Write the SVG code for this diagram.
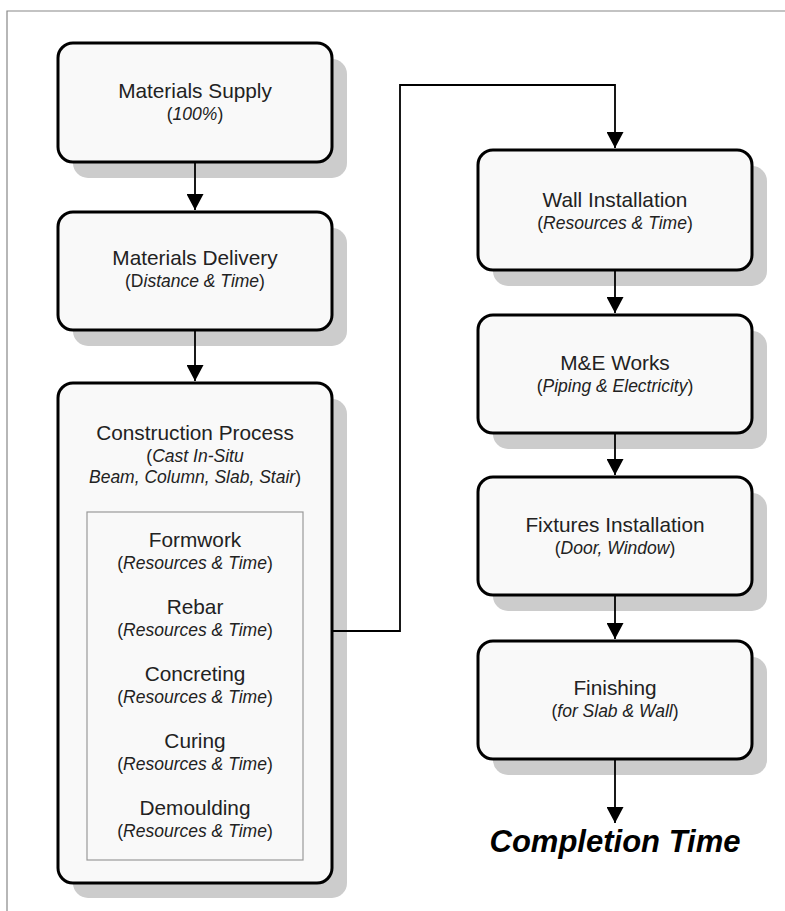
<svg xmlns="http://www.w3.org/2000/svg" width="785" height="911" viewBox="0 0 785 911">
  <defs>
    <marker id="arrow" markerWidth="17" markerHeight="17" refX="16" refY="8.5" orient="auto" markerUnits="userSpaceOnUse">
      <path d="M0,0 L16,8.5 L0,17 Z" fill="#000"/>
    </marker>
  </defs>
  <style>
    .shadow { fill: #cccccc; }
    .box { fill: #f9f9f9; stroke: #000; stroke-width: 3; }
    .inner { fill: none; stroke: #999; stroke-width: 1.2; }
    .title { font-family: "Liberation Sans", Arial, sans-serif; font-size: 20.8px; fill: #222; text-anchor: middle; }
    .sub { font-family: "Liberation Sans", Arial, sans-serif; font-size: 17.5px; fill: #222; text-anchor: middle; }
    .it { font-style: italic; }
    .conn { fill: none; stroke: #000; stroke-width: 1.8; }
    .frame { fill: none; stroke: #888; stroke-width: 1.2; }
    .final { font-family: "Liberation Sans", Arial, sans-serif; font-size: 31px; font-weight: bold; font-style: italic; fill: #000; text-anchor: middle; }
  </style>
  <rect width="785" height="911" fill="#fff"/>
  <path class="frame" d="M7,911 V11 H785"/>

  <g id="materials-supply">
    <rect class="shadow" x="73" y="59" width="274" height="119" rx="15"/>
    <rect class="box" x="58" y="43" width="274" height="119" rx="15"/>
    <text class="title" x="195" y="98">Materials Supply</text>
    <text class="sub" x="195" y="120">(<tspan class="it">100%</tspan>)</text>
  </g>

  <g id="materials-delivery">
    <rect class="shadow" x="73" y="228" width="274" height="118" rx="15"/>
    <rect class="box" x="58" y="212" width="274" height="118" rx="15"/>
    <text class="title" x="195" y="265">Materials Delivery</text>
    <text class="sub" x="195" y="287">(D<tspan class="it">istance &amp; Time</tspan>)</text>
  </g>

  <g id="construction-process">
    <rect class="shadow" x="73" y="399" width="274" height="499" rx="15"/>
    <rect class="box" x="58" y="383" width="274" height="500" rx="15"/>
    <text class="title" x="195" y="440">Construction Process</text>
    <text class="sub" x="195" y="462">(<tspan class="it">Cast In-Situ</tspan></text>
    <text class="sub" x="195" y="483"><tspan class="it">Beam, Column, Slab, Stair</tspan>)</text>
    <rect class="inner" x="87" y="512" width="216" height="348"/>
    <g id="formwork">
      <text class="title" x="195" y="547">Formwork</text>
      <text class="sub" x="195" y="569">(<tspan class="it">Resources &amp; Time</tspan>)</text>
    </g>
    <g id="rebar">
      <text class="title" x="195" y="614">Rebar</text>
      <text class="sub" x="195" y="636">(<tspan class="it">Resources &amp; Time</tspan>)</text>
    </g>
    <g id="concreting">
      <text class="title" x="195" y="681">Concreting</text>
      <text class="sub" x="195" y="703">(<tspan class="it">Resources &amp; Time</tspan>)</text>
    </g>
    <g id="curing">
      <text class="title" x="195" y="748">Curing</text>
      <text class="sub" x="195" y="770">(<tspan class="it">Resources &amp; Time</tspan>)</text>
    </g>
    <g id="demoulding">
      <text class="title" x="195" y="815">Demoulding</text>
      <text class="sub" x="195" y="837">(<tspan class="it">Resources &amp; Time</tspan>)</text>
    </g>
  </g>

  <g id="wall-installation">
    <rect class="shadow" x="493" y="166" width="274" height="120" rx="15"/>
    <rect class="box" x="478" y="150" width="274" height="120" rx="15"/>
    <text class="title" x="615" y="207">Wall Installation</text>
    <text class="sub" x="615" y="229">(<tspan class="it">Resources &amp; Time</tspan>)</text>
  </g>

  <g id="me-works">
    <rect class="shadow" x="493" y="331" width="274" height="118" rx="15"/>
    <rect class="box" x="478" y="315" width="274" height="118" rx="15"/>
    <text class="title" x="615" y="370">M&amp;E Works</text>
    <text class="sub" x="615" y="392">(<tspan class="it">Piping &amp; Electricity</tspan>)</text>
  </g>

  <g id="fixtures-installation">
    <rect class="shadow" x="493" y="493" width="274" height="118" rx="15"/>
    <rect class="box" x="478" y="477" width="274" height="118" rx="15"/>
    <text class="title" x="615" y="532">Fixtures Installation</text>
    <text class="sub" x="615" y="554">(<tspan class="it">Door, Window</tspan>)</text>
  </g>

  <g id="finishing">
    <rect class="shadow" x="493" y="657" width="274" height="118" rx="15"/>
    <rect class="box" x="478" y="641" width="274" height="118" rx="15"/>
    <text class="title" x="615" y="695">Finishing</text>
    <text class="sub" x="615" y="717">(<tspan class="it">for Slab &amp; Wall</tspan>)</text>
  </g>

  <g id="completion-time">
    <text class="final" x="615" y="852">Completion Time</text>
  </g>

  <!-- connectors drawn last so they run over the drop shadows -->
  <g id="connectors">
    <line class="conn" x1="195" y1="163" x2="195" y2="210" marker-end="url(#arrow)"/>
    <line class="conn" x1="195" y1="331" x2="195" y2="381" marker-end="url(#arrow)"/>
    <path class="conn" d="M333,631 H400 V85 H615 V148" marker-end="url(#arrow)"/>
    <line class="conn" x1="615" y1="271" x2="615" y2="313" marker-end="url(#arrow)"/>
    <line class="conn" x1="615" y1="434" x2="615" y2="475" marker-end="url(#arrow)"/>
    <line class="conn" x1="615" y1="596" x2="615" y2="639" marker-end="url(#arrow)"/>
    <line class="conn" x1="615" y1="760" x2="615" y2="823" marker-end="url(#arrow)"/>
  </g>
</svg>
